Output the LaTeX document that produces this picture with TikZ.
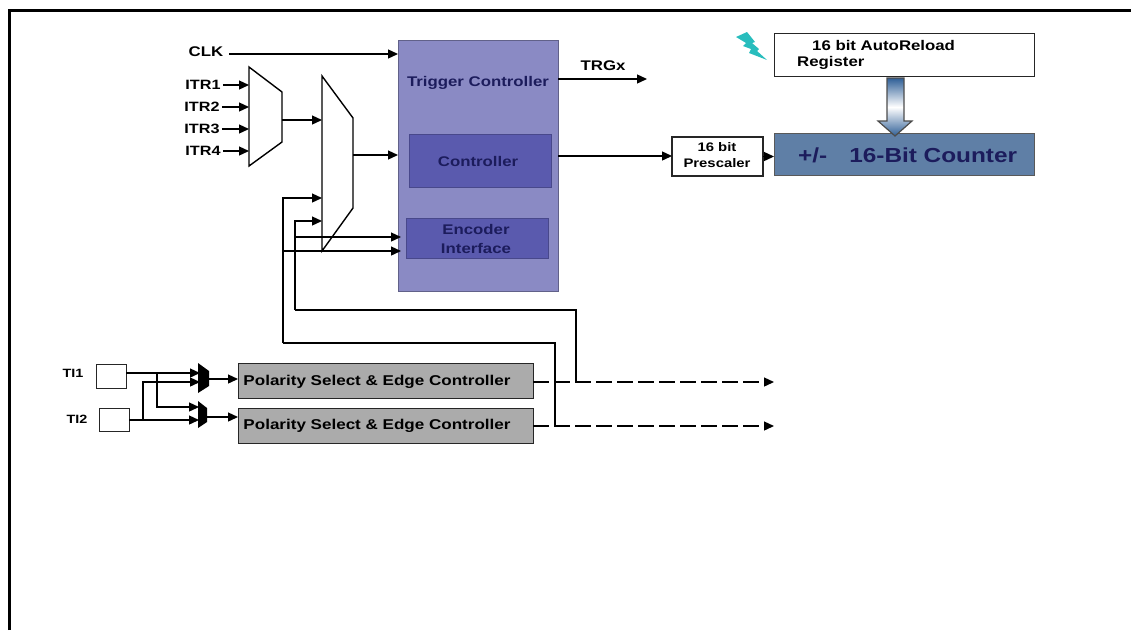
\documentclass[tikz,border=0pt]{standalone}
\usepackage{fontspec}
\setmainfont[FakeStretch=1.2]{Liberation Sans}
\usepackage{tikz}
\usetikzlibrary{arrows.meta}

\definecolor{trigblue}{HTML}{8A8AC4}
\definecolor{ctrlblue}{HTML}{5A5AAE}
\definecolor{cntblue}{HTML}{5F7FA6}
\definecolor{bolt}{HTML}{28BDBD}
\definecolor{polgray}{HTML}{ABABAB}
\definecolor{navytxt}{HTML}{1C1C5C}
\definecolor{steel}{HTML}{2F5F97}

\tikzset{
  sig/.style={line width=1.3pt,-{Triangle[length=10pt,width=9pt]}},
  wire/.style={line width=1.2pt},
  lbl/.style={font=\bfseries\fontsize{14}{16}\selectfont,inner sep=0pt},
  box/.style={draw=black!85,line width=1pt,inner sep=0pt,outer sep=0pt,anchor=north west},
  dashsig/.style={sig,dash pattern=on 16pt off 5pt},
}

\begin{document}
\begin{tikzpicture}[x=1pt,y=-1pt]
  \useasboundingbox (0,0) rectangle (1131,630);
  % Outer frame
  \draw[line width=2.6pt] (9.5,630)--(9.5,10.5)--(1131,10.5);
  % Trigger block
  \node[box,draw=trigblue!70!black,line width=0.7pt,fill=trigblue,minimum width=160pt,minimum height=251pt] (trig) at (398,40) {};
  \node[box,draw=ctrlblue!80!black,line width=0.7pt,fill=ctrlblue,minimum width=142pt,minimum height=53pt] (ctrl) at (409,134) {};
  \node[box,draw=ctrlblue!80!black,line width=0.7pt,fill=ctrlblue,minimum width=142pt,minimum height=40pt] (enc) at (406,218) {};
  \node[lbl,text=navytxt] (trigtxt) at (478,83) {Trigger Controller};
  \node[lbl,text=navytxt] (ctrltxt) at (478,161) {Controller};
  \node[lbl,text=navytxt] (enctxta) at (476,229) {Encoder};
  \node[lbl,text=navytxt] (enctxtb) at (476,248) {Interface};
  % Muxes
  \draw[line width=1.4pt] (249,67)--(282,92)--(282,142)--(249,166)--cycle;
  \draw[line width=1.4pt] (322,76)--(353,118)--(353,208)--(322,251)--cycle;
  \coordinate (muxaout) at (282,120);
  \coordinate (muxbin) at (322,120);
  \coordinate (muxbout) at (353,155);
  \coordinate (muxbtop) at (322,198);
  \coordinate (muxbmid) at (322,221);
  \coordinate (muxbbot) at (322,251);
  % CLK and ITR inputs
  \node[lbl] (clk) at (206,52) {CLK};
  \draw[sig] (229,54) -- (trig.west |- 0,54);
  \node[lbl,font=\bfseries\fontsize{13.5}{16}\selectfont] (itra) at (203,85) {ITR1};
  \node[lbl,font=\bfseries\fontsize{13.5}{16}\selectfont] (itrb) at (202,107) {ITR2};
  \node[lbl,font=\bfseries\fontsize{13.5}{16}\selectfont] (itrc) at (202,129) {ITR3};
  \node[lbl,font=\bfseries\fontsize{13.5}{16}\selectfont] (itrd) at (203,151) {ITR4};
  \foreach \n/\y in {itra/85,itrb/107,itrc/129,itrd/151}
    \draw[sig] (\n.east |- 0,\y) ++(2,0) -- (249,\y);
  \draw[sig] (muxaout) -- (muxbin);
  \draw[sig] (muxbout) -- (trig.west |- muxbout);
  % Feedback from polarity blocks
  \coordinate (fbatop) at (283,198);
  \coordinate (fbbtop) at (295,221);
  \coordinate (fbacor) at (283,343);
  \coordinate (fbbcor) at (295,310);
  \coordinate (fbaend) at (555,343);
  \coordinate (fbbend) at (576,310);
  \draw[sig] (fbacor) -- (fbatop) -- (muxbtop);
  \draw[sig] (fbbcor) -- (fbbtop) -- (muxbmid);
  \draw[sig] (fbbtop |- 0,237) -- ([xshift=-5pt]enc.west |- 0,237);
  \draw[sig] (fbatop |- muxbbot) -- ([xshift=-5pt]enc.west |- muxbbot);
  % Polarity blocks
  \node[box,fill=polgray,minimum width=295pt,minimum height=35pt] (pola) at (238,363.5) {};
  \node[box,fill=polgray,minimum width=295pt,minimum height=35pt] (polb) at (238,408) {};
  \node[lbl,font=\bfseries\fontsize{14.2}{16}\selectfont] (polatxt) at (377,382) {Polarity Select \& Edge Controller};
  \node[lbl,font=\bfseries\fontsize{14.2}{16}\selectfont] (polbtxt) at (377,426) {Polarity Select \& Edge Controller};
  \coordinate (outa) at (774,382);
  \coordinate (outb) at (774,426);
  \draw[dashsig] (pola.east |- outa) -- (outa);
  \draw[dashsig] (polb.east |- outb) -- (outb);
  \draw[wire] (fbacor) -- (fbaend) -- (fbaend |- outb);
  \draw[wire] (fbbcor) -- (fbbend) -- (fbbend |- outa);
  % TI inputs
  \node[lbl,font=\bfseries\fontsize{12}{14}\selectfont] (tia) at (73,373) {TI1};
  \node[lbl,font=\bfseries\fontsize{12}{14}\selectfont] (tib) at (77,419) {TI2};
  \node[box,line width=0.9pt,minimum width=30pt,minimum height=24pt] (tiabox) at (96,364) {};
  \node[box,line width=0.9pt,minimum width=30pt,minimum height=23pt] (tibbox) at (99,408) {};
  \fill (198,363)--(209,371)--(209,386)--(198,393)--cycle;
  \fill (198,401)--(207,408)--(207,422)--(198,428)--cycle;
  \coordinate (sela) at (200,373);
  \coordinate (selb) at (200,382);
  \coordinate (selc) at (199,407);
  \coordinate (seld) at (199,420);
  \draw[sig] (tiabox.east |- sela) -- (sela);
  \draw[sig] (tibbox.east |- seld) -- (seld);
  \draw[sig] (157,373) -- (157,407) -- (selc);
  \draw[sig] (143,420) -- (143,382) -- (selb);
  \draw[sig] (209,379) -- (pola.west |- 0,379);
  \draw[sig] (207,417) -- (polb.west |- 0,417);
  % Counter side
  \node[box,fill=white,line width=1.5pt,minimum width=91pt,minimum height=39pt] (pre) at (672,137) {};
  \node[lbl,font=\bfseries\fontsize{12.4}{16}\selectfont,align=center] (pretxt) at (717,155) {16 bit\\Prescaler};
  \node[box,fill=cntblue,draw=black!65,minimum width=260pt,minimum height=42pt] (cnt) at (774,133) {};
  \node[lbl,font=\bfseries\fontsize{20.3}{24}\selectfont,text=navytxt,anchor=west] (cnttxt) at (798,155) {+/-\hspace{22pt}16-Bit Counter};
  \node[box,fill=white,minimum width=260pt,minimum height=43pt] (reload) at (774,33) {};
  \node[lbl,anchor=west] (reloadtxta) at (812,45) {16 bit AutoReload};
  \node[lbl,anchor=west] (reloadtxtb) at (797,63) {Register};
  \draw[sig] (trig.east |- 0,156) -- (pre.west |- 0,156);
  \draw[sig] (pre.east) -- (cnt.west |- pre.east);
  \coordinate (trgout) at (647,79);
  \draw[sig] (trig.east |- trgout) -- (trgout);
  \node[lbl] (trgx) at (603,66) {TRGx};
  % Reload arrow
  \draw[line width=1.2pt,draw=black!70,top color=steel,bottom color=steel,middle color=white]
    (887,78)--(904,78)--(904,121)--(912,121)--(895,136)--(878,121)--(887,121)--cycle;
  % Bolt
  \fill[bolt] (736,37)--(747,32)--(755,42)--(752,43)--(759,49)--(757,51)--(767,60)--(749,53)--(751,49)--(743,46)--(746,43)--cycle;
\end{tikzpicture}
\end{document}
